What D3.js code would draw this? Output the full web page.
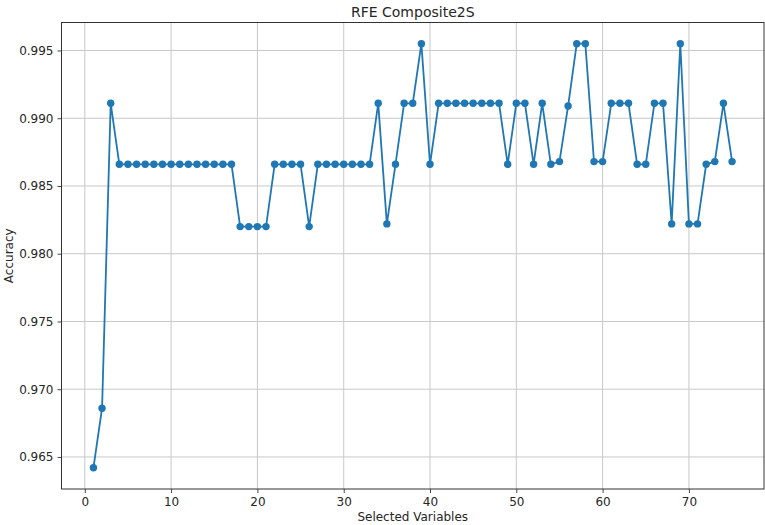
<!DOCTYPE html>
<html>
<head>
<meta charset="utf-8">
<script src="https://cdn.jsdelivr.net/npm/d3@7"></script>
<style>
  body { margin: 0; background: #fff; }
  svg { font-family: "DejaVu Sans", sans-serif; }
</style>
</head>
<body>
<svg></svg>
<script>
var w = 765,
    h = 525;

// chart data
var chartTitle = "RFE Composite2S";
var xLabel = "Selected Variables";
var yLabel = "Accuracy";
var selectedVariables = [1, 2, 3, 4, 5, 6, 7, 8, 9, 10, 11, 12, 13, 14, 15, 16, 17, 18, 19, 20,
    21, 22, 23, 24, 25, 26, 27, 28, 29, 30, 31, 32, 33, 34, 35, 36, 37, 38, 39, 40,
    41, 42, 43, 44, 45, 46, 47, 48, 49, 50, 51, 52, 53, 54, 55, 56, 57, 58, 59, 60,
    61, 62, 63, 64, 65, 66, 67, 68, 69, 70, 71, 72, 73, 74, 75];
var accuracy = [0.9642, 0.9686, 0.9911,
    0.9866, 0.9866, 0.9866, 0.9866, 0.9866, 0.9866, 0.9866, 0.9866, 0.9866, 0.9866, 0.9866, 0.9866, 0.9866, 0.9866,
    0.9820, 0.9820, 0.9820, 0.9820,
    0.9866, 0.9866, 0.9866, 0.9866,
    0.9820,
    0.9866, 0.9866, 0.9866, 0.9866, 0.9866, 0.9866, 0.9866,
    0.9911, 0.9822, 0.9866, 0.9911, 0.9911, 0.9955, 0.9866,
    0.9911, 0.9911, 0.9911, 0.9911, 0.9911, 0.9911, 0.9911, 0.9911,
    0.9866, 0.9911, 0.9911, 0.9866, 0.9911, 0.9866, 0.9868, 0.9909, 0.9955, 0.9955,
    0.9868, 0.9868, 0.9911, 0.9911, 0.9911, 0.9866, 0.9866, 0.9911, 0.9911,
    0.9822, 0.9955, 0.9822, 0.9822, 0.9866, 0.9868, 0.9911, 0.9868];
var xTicks = [0, 10, 20, 30, 40, 50, 60, 70];
var yTicks = [0.965, 0.970, 0.975, 0.980, 0.985, 0.990, 0.995];

var mLeft = 61.5, mRight = 764, mTop = 22.5, mBottom = 489;
var blue = "#1f77b4";
var textColor = "#262626";

var data = selectedVariables.map(function (v, i) {
    return { x: v, y: accuracy[i] };
});

// matplotlib style 5% margins
var xExt = d3.extent(selectedVariables), xPad = (xExt[1] - xExt[0]) * 0.05;
var yExt = d3.extent(accuracy), yPad = (yExt[1] - yExt[0]) * 0.05;

var xScale = d3.scaleLinear().domain([xExt[0] - xPad, xExt[1] + xPad]).range([mLeft, mRight]);
var yScale = d3.scaleLinear().domain([yExt[0] - yPad, yExt[1] + yPad]).range([mBottom, mTop]);

var svg = d3.select("svg")
    .attr("width", w)
    .attr("height", h);

// grid
svg.append("g")
    .selectAll("line")
    .data(xTicks)
    .join("line")
    .attr("x1", function (d) { return xScale(d); })
    .attr("x2", function (d) { return xScale(d); })
    .attr("y1", mTop)
    .attr("y2", mBottom)
    .attr("stroke", "#c8c8c8")
    .attr("stroke-width", 1);

svg.append("g")
    .selectAll("line")
    .data(yTicks)
    .join("line")
    .attr("x1", mLeft)
    .attr("x2", mRight)
    .attr("y1", function (d) { return yScale(d); })
    .attr("y2", function (d) { return yScale(d); })
    .attr("stroke", "#c8c8c8")
    .attr("stroke-width", 1);

// axes
var xAxis = svg.append("g")
    .attr("transform", "translate(0," + mBottom + ")")
    .call(d3.axisBottom(xScale).tickValues(xTicks).tickSize(4).tickPadding(4).tickFormat(d3.format("d")));
var yAxis = svg.append("g")
    .attr("transform", "translate(" + mLeft + ",0)")
    .call(d3.axisLeft(yScale).tickValues(yTicks).tickSize(4).tickPadding(4).tickFormat(d3.format(".3f")));

[xAxis, yAxis].forEach(function (a) {
    a.select(".domain").remove();
    a.selectAll(".tick line").attr("stroke", "#333").attr("stroke-width", 0.9);
    a.selectAll(".tick text")
        .attr("fill", textColor)
        .style("font-size", "12px")
        .style("font-family", "DejaVu Sans, sans-serif");
});

// frame
svg.append("rect")
    .attr("x", mLeft)
    .attr("y", mTop)
    .attr("width", mRight - mLeft)
    .attr("height", mBottom - mTop)
    .attr("fill", "none")
    .attr("stroke", "#333")
    .attr("stroke-width", 1);

// line + markers
var lineMaker = d3.line()
    .x(function (d) { return xScale(d.x); })
    .y(function (d) { return yScale(d.y); });

svg.append("path")
    .datum(data)
    .attr("d", lineMaker)
    .attr("fill", "none")
    .attr("stroke", blue)
    .attr("stroke-width", 1.8);

svg.append("g")
    .selectAll("circle")
    .data(data)
    .join("circle")
    .attr("cx", function (d) { return xScale(d.x); })
    .attr("cy", function (d) { return yScale(d.y); })
    .attr("r", 3.7)
    .attr("fill", blue);

// labels
svg.append("text")
    .attr("x", (mLeft + mRight) / 2)
    .attr("y", 17)
    .attr("text-anchor", "middle")
    .attr("fill", textColor)
    .style("font-size", "14px")
    .text(chartTitle);

svg.append("text")
    .attr("x", (mLeft + mRight) / 2)
    .attr("y", 521)
    .attr("text-anchor", "middle")
    .attr("fill", textColor)
    .style("font-size", "12px")
    .text(xLabel);

svg.append("text")
    .attr("transform", "translate(13," + ((mTop + mBottom) / 2) + ")rotate(-90)")
    .attr("text-anchor", "middle")
    .attr("fill", textColor)
    .style("font-size", "12px")
    .text(yLabel);
</script>
</body>
</html>
